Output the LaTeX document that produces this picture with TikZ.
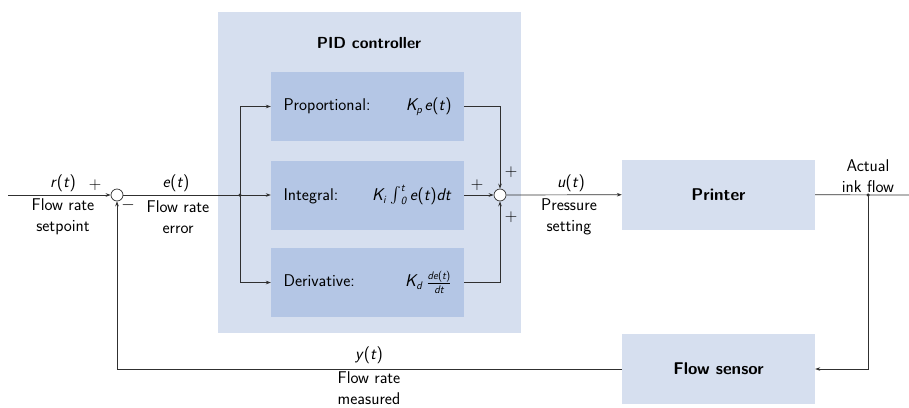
\documentclass[tikz,border=0pt]{standalone}
\usetikzlibrary{arrows.meta}
\renewcommand\familydefault{\sfdefault}
\definecolor{pidbg}{HTML}{D6DFEF}
\definecolor{inner}{HTML}{B4C6E5}
\definecolor{ln}{HTML}{303030}
\newcommand\vi[1]{\textit{#1}}
\newcommand\sbi[1]{\mbox{\fontsize{11}{12}\selectfont\sffamily\itshape #1}}
\begin{document}
\begin{tikzpicture}[x=1pt,y=-1pt,
  font=\fontsize{17}{21}\selectfont\sffamily,
  lbl/.style={align=center, inner sep=0pt},
  arr/.style={draw=ln, line width=0.7pt, -{Stealth[length=5pt,width=3.6pt]}},
  wire/.style={draw=ln, line width=0.7pt},
  sumnode/.style={circle, draw=ln, line width=0.7pt, minimum size=12pt, inner sep=0pt, fill=white},
  bgbox/.style={fill=pidbg, draw=none, inner sep=0pt, minimum width=303pt, minimum height=321pt},
  subbox/.style={fill=inner, draw=none, inner sep=0pt, minimum width=193pt, minimum height=69pt},
  plantbox/.style={fill=pidbg, draw=none, inner sep=0pt, minimum width=193pt, minimum height=70pt, font=\fontsize{17}{21}\selectfont\sffamily\bfseries},
  dot/.style={circle, fill=ln, inner sep=0pt, minimum size=3.5pt}
]
\useasboundingbox (0,0) rectangle (909,407);
% background PID
\node[bgbox] (pid) at (369.5,172.5) {};
\node[lbl, font=\fontsize{16}{21}\selectfont\sffamily\bfseries] (pidtitle) at (369,43) {PID controller};
% sub blocks
\node[subbox] (pbox) at (367.5,106.5) {\makebox[168pt]{Proportional:\hfill \vi{K\kern-0.5pt\raisebox{-3pt}{\sbi{p}}\,e}(\vi{t})}};
\node[subbox] (ibox) at (367.5,195) {\makebox[168pt]{Integral:\hfill \vi{K\raisebox{-3pt}{\sbi{i}}}\;$\mathop{\raisebox{-2pt}{\scalebox{1.6}{$\int$}}}\nolimits_{\sbi{0}}^{\sbi{t}}$\kern3pt\vi{e}(\vi{t})\vi{dt}}};
\node[subbox] (dbox) at (367.5,282.5) {\makebox[168pt]{Derivative:\hfill \vi{K\raisebox{-3pt}{\sbi{d}}}\;\raisebox{-1pt}{$\frac{\sbi{de}\mbox{\fontsize{11}{12}\selectfont(}\sbi{t}\mbox{\fontsize{11}{12}\selectfont)}}{\sbi{dt}}$}}};
% sums
\node[sumnode] (s1) at (117,195) {};
\node[sumnode] (s2) at (500,195) {};
% plants
\node[plantbox] (printer) at (718.5,194.5) {Printer};
\node[plantbox] (sensor) at (718.5,369) {Flow sensor};
% coordinates
\coordinate (in) at (8,195);
\coordinate (br) at (240,195);
\coordinate (tap) at (868,195);
\coordinate (out) at (909,195);
% connectors
\draw[arr] (in) -- (s1);
\draw[wire] (s1) -- (br);
\draw[arr] (br) -- (ibox);
\draw[arr] (br) |- (pbox.west);
\draw[arr] (br) |- (dbox.west);
\draw[arr] (pbox.east) -| (s2);
\draw[arr] (ibox) -- (s2);
\draw[arr] (dbox.east) -| (s2);
\draw[arr] (s2) -- (printer);
\draw[wire] (printer) -- (out);
\draw[arr] (tap) |- (sensor);
\draw[arr] (sensor) -| (s1);
\node[dot] (brdot) at (br) {};
\node[dot] (tapdot) at (tap) {};
% labels
\node[lbl] (rt) at (63,183) {\vi{r}(\vi{t})};
\node[lbl] (p1) at (95,185) {$+$};
\node[lbl] (m1) at (128,205) {$-$};
\node[lbl] (rtx) at (63,217) {Flow rate\\setpoint};
\node[lbl] (et) at (176,183) {\vi{e}(\vi{t})};
\node[lbl] (etx) at (178,217) {Flow rate\\error};
\node[lbl] (pa) at (511,172) {$+$};
\node[lbl] (pb) at (477,185) {$+$};
\node[lbl] (pc) at (511,217) {$+$};
\node[lbl] (ut) at (571,183) {\vi{u}(\vi{t})};
\node[lbl] (utx) at (569,217) {Pressure\\setting};
\node[lbl] (act) at (868,176) {Actual\\ink flow};
\node[lbl] (yt) at (369,355) {\vi{y}(\vi{t})};
\node[lbl] (ytx) at (369,388) {Flow rate\\measured};
\end{tikzpicture}
\end{document}
